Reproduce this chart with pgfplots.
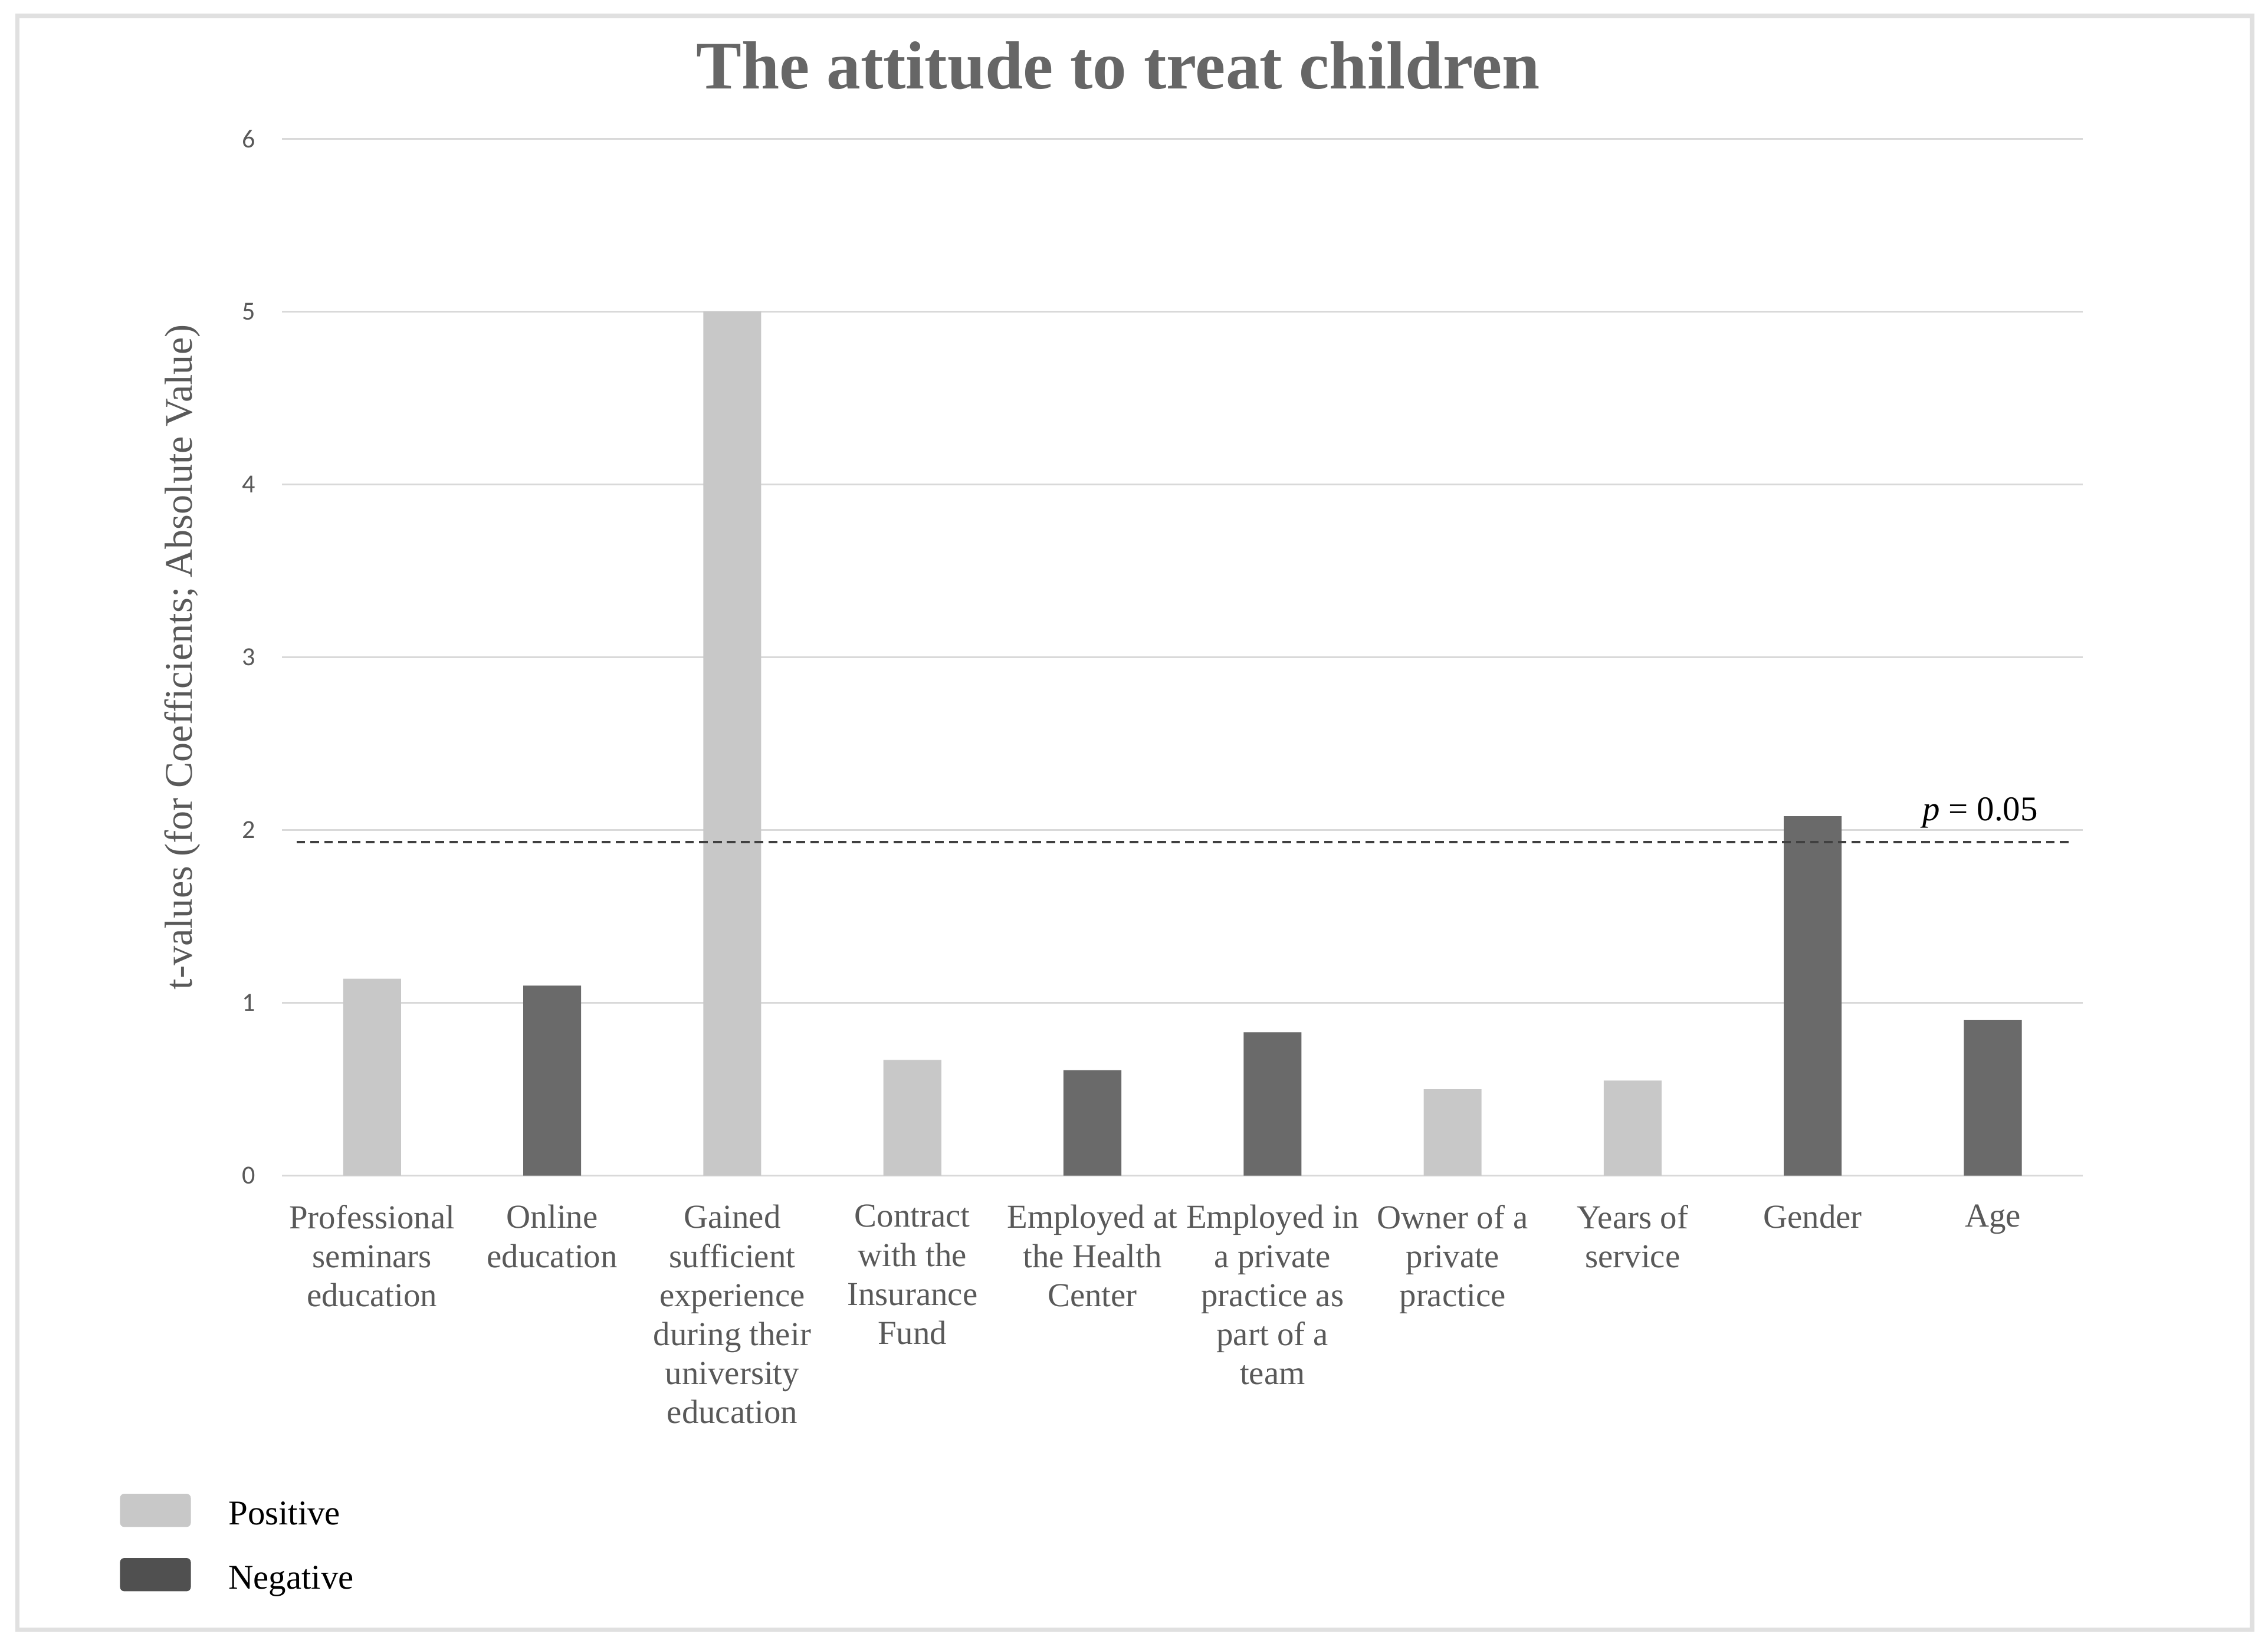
\documentclass[border=0pt]{standalone}
\usepackage{fontspec}
\setmainfont{Liberation Serif}
\newfontfamily\carlito{Carlito}
\usepackage{pgfplots}
\pgfplotsset{compat=1.18}
\definecolor{posbar}{HTML}{C8C8C8}
\definecolor{negbar}{HTML}{6A6A6A}
\definecolor{negleg}{HTML}{505050}
\definecolor{gridc}{HTML}{D9D9D9}
\definecolor{textc}{HTML}{595959}
\definecolor{titlec}{HTML}{666666}
\definecolor{framec}{HTML}{E0E0E0}
\begin{document}
\begin{tikzpicture}
\useasboundingbox (-97.5pt,-164pt) rectangle (686.5pt,406.5pt);
\draw[framec, line width=1.5pt] (-91.5pt,-157pt) rectangle (681pt,401pt);
\begin{axis}[
    at={(0pt,0pt)}, anchor=south west,
    scale only axis, width=622.5pt, height=358.5pt,
    xmin=-0.5, xmax=9.5, ymin=0, ymax=6,
    axis line style={draw=none},
    major tick length=0pt,
    ymajorgrids, grid style={gridc, line width=0.6pt},
    ytick={0,1,2,3,4,5,6},
    xtick={0,...,9},
    xticklabels={{Professional\\seminars\\education},{Online\\education},{Gained\\sufficient\\experience\\during their\\university\\education},{Contract\\with the\\Insurance\\Fund},{Employed at\\the Health\\Center},{Employed in\\a private\\practice as\\part of a\\team},{Owner of a\\private\\practice},{Years of\\service},{Gender},{Age}},
    x tick label style={font=\fontsize{11.6}{13.5}\selectfont, text=textc, align=center, anchor=north, yshift=-6.6pt},
    yticklabel style={font=\carlito\fontsize{9}{10}\selectfont, text=textc, /pgf/number format/assume math mode=true, xshift=-5.7pt},
    ylabel={t-values (for Coefficients; Absolute Value)},
    ylabel style={font=\fontsize{13.5}{16}\selectfont, text=textc, at={(axis description cs:-0.0554,0.5)}, anchor=center},
    title={The attitude to treat children},
    title style={font=\bfseries\fontsize{23.5}{28}\selectfont, text=titlec, at={(axis description cs:0.4643,1.0315)}, anchor=base},
    legend style={at={(axis description cs:-0.09,-0.3068)}, anchor=north west, draw=none, fill=none, inner sep=0pt, outer sep=0pt, row sep=10pt, font=\fontsize{12}{14}\selectfont, nodes={inner sep=0pt}, /tikz/every odd column/.append style={column sep=13pt}},
    legend cell align=left,
]
\addplot[ybar, bar width=20pt, bar shift=0pt, fill=posbar, draw=none,
    legend image code/.code={\fill[posbar, rounded corners=1.5pt] (0pt,-4pt) rectangle (24.5pt,7.5pt);}]
    coordinates {(0,1.14) (2,5.00) (3,0.67) (6,0.50) (7,0.55)};
\addlegendentry{Positive}
\addplot[ybar, bar width=20pt, bar shift=0pt, fill=negbar, draw=none,
    legend image code/.code={\fill[negleg, rounded corners=1.5pt] (0pt,-4pt) rectangle (24.5pt,7.5pt);}]
    coordinates {(1,1.10) (4,0.61) (5,0.83) (8,2.08) (9,0.90)};
\addlegendentry{Negative}
\addplot[forget plot, color=black!75, line width=0.8pt, dash pattern=on 3pt off 1.8pt]
    coordinates {(-0.42,1.93) (9.44,1.93)};
\node[anchor=base, font=\fontsize{12}{14}\selectfont] at (axis cs:8.93,2.054) {\textit{p} = 0.05};
\end{axis}
\end{tikzpicture}
\end{document}
